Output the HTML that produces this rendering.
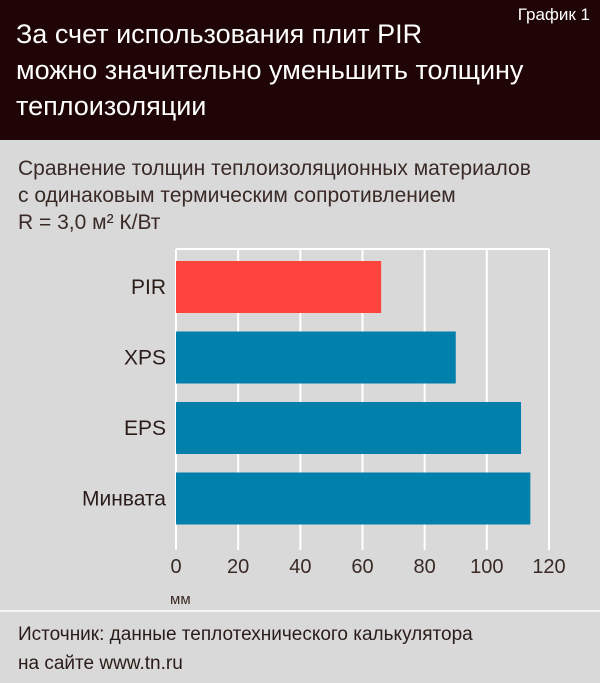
<!DOCTYPE html>
<html><head><meta charset="utf-8"><style>
body{margin:0;width:600px;height:683px;background:#d9d9d9;overflow:hidden;font-family:"Liberation Sans Narrow","Liberation Sans",sans-serif;}
.hdr{position:absolute;left:0;top:0;width:600px;height:140px;background:#1f0505;}
.t{position:absolute;color:#fff;font-size:27px;left:16px;line-height:36px;top:16px;}
.g{position:absolute;color:#fff;font-size:17px;right:10px;top:5px;}
.sub{position:absolute;left:18px;top:155px;font-size:21px;line-height:27px;color:#3a2a26;}
.src{position:absolute;left:18px;top:620px;font-size:19px;line-height:29px;color:#2a1c18;}
.div{position:absolute;left:0;top:610px;width:600px;height:2px;background:#f4f4f4;}
</style></head><body>
<div class="hdr">
<div class="t">За счет использования плит PIR<br>можно значительно уменьшить толщину<br>теплоизоляции</div>
<div class="g">График 1</div>
</div>
<div class="sub">Сравнение толщин теплоизоляционных материалов<br>с одинаковым термическим сопротивлением<br>R = 3,0 м² К/Вт</div>
<svg id="c" width="600" height="683" style="position:absolute;left:0;top:0"></svg>
<div class="div"></div>
<div class="src">Источник: данные теплотехнического калькулятора<br>на сайте www.tn.ru</div>
<script>
const categories=["PIR","XPS","EPS","Минвата"];
const values=[66,90,111,114];
const colors=["#ff433d","#0080ab","#0080ab","#0080ab"];
const ticks=[0,20,40,60,80,100,120];
const NS="http://www.w3.org/2000/svg";
const svg=document.getElementById('c');
const x0=176,x1=549,yTop=249,yBot=542;
const xs=v=>x0+v*(x1-x0)/120;
const ys=i=>261+i*70.5;
function el(t,a){const e=document.createElementNS(NS,t);for(const k in a)e.setAttribute(k,a[k]);svg.appendChild(e);return e;}
ticks.forEach(t=>{
 const l=el('line',{x1:xs(t),x2:xs(t),y1:yTop,y2:yBot+8,stroke:'#fff','stroke-width':2});
 
 
 const tx=el('text',{x:xs(t),y:573,'text-anchor':'middle','font-size':20,fill:'#3a2a26','font-family':'Liberation Sans Narrow, Liberation Sans, sans-serif'});
 tx.textContent=t;
 
 
});
const tl=el('line',{x1:x0,x2:x1,y1:yTop,y2:yTop,stroke:'#fff','stroke-width':2});


categories.forEach((c,i)=>{
 const r=el('rect',{x:x0,y:ys(i),width:xs(values[i])-x0,height:52,fill:colors[i]});
 
 
 const tx=el('text',{x:166,y:ys(i)+33,'text-anchor':'end','font-size':21,fill:'#2a1c18','font-family':'Liberation Sans Narrow, Liberation Sans, sans-serif'});
 tx.textContent=c;
 
 
});
const u=el('text',{x:170,y:604,'font-size':15,fill:'#3a2a26','font-family':'Liberation Sans Narrow, Liberation Sans, sans-serif'});
u.textContent='мм';


</script>
</body></html>
